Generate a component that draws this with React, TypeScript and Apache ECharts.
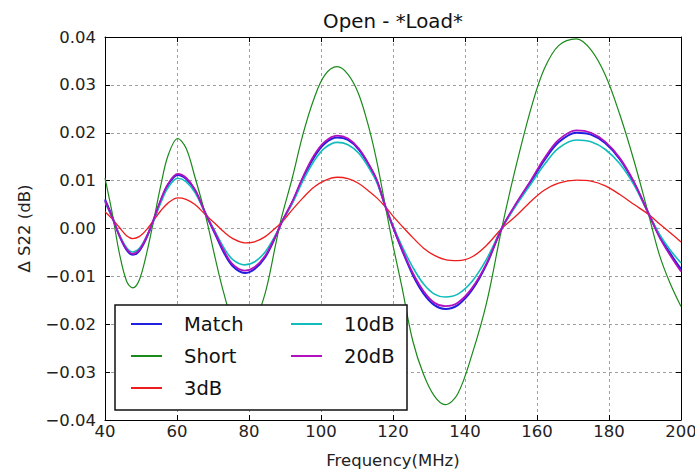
import React, { useEffect, useRef } from "react";
import * as echarts from "echarts";

// Frequency grid (MHz) shared by all traces
const freq = [
  40, 42, 44, 46, 47.7, 49.5, 51.5, 53.5, 55.5, 57.5, 60.2, 62.5, 65, 68, 70.5, 73, 75.5, 78.8,
  81.5, 84.5, 87.5, 89, 92, 95, 98, 101, 104.5, 107.5, 110.5, 113.5, 115.5, 117.8, 120, 122.5,
  125.5, 128.5, 131.5, 134.5, 138, 142, 146, 150.2, 154, 158.5, 162, 166, 171, 175, 179, 183,
  187, 190.9, 194, 197, 200,
];

// Δ S22 (dB) per termination
const matchVals = [
  0.0061, 0.0025, -0.0015, -0.0045, -0.0055, -0.0047, -0.002, 0.0017, 0.0058, 0.0091, 0.0112,
  0.0104, 0.008, 0.003, -0.001, -0.005, -0.0079, -0.0093, -0.0085, -0.006, -0.0015, 0.0012,
  0.0054, 0.0105, 0.0148, 0.0177, 0.019, 0.0185, 0.0165, 0.013, 0.01, 0.0048, 0.0003, -0.0045,
  -0.0097, -0.0136, -0.016, -0.0168, -0.016, -0.0128, -0.0075, 0.0, 0.0048, 0.01, 0.0142, 0.018,
  0.02, 0.0196, 0.0178, 0.0145, 0.0095, 0.0033, -0.0015, -0.0052, -0.0085,
];
const shortVals = [
  0.0105, 0.0032, -0.0052, -0.011, -0.0124, -0.0108, -0.0054, 0.0016, 0.009, 0.0152, 0.0188,
  0.0168, 0.0107, 0.0025, -0.0058, -0.0135, -0.0192, -0.0218, -0.0195, -0.0135, -0.003, 0.0022,
  0.0105, 0.0197, 0.027, 0.032, 0.0338, 0.0322, 0.028, 0.0205, 0.014, 0.005, -0.0035, -0.0123,
  -0.0235, -0.0305, -0.035, -0.0368, -0.0345, -0.0262, -0.0155, 0.0, 0.0125, 0.0255, 0.0333,
  0.0382, 0.0396, 0.0373, 0.032, 0.0238, 0.014, 0.0032, -0.0055, -0.0115, -0.0163,
];
const db3Vals = [
  0.0035, 0.002, 0.0002, -0.0015, -0.0021, -0.0017, -0.0003, 0.0017, 0.0037, 0.0053, 0.0064,
  0.0061, 0.005, 0.0028, 0.0011, -0.0007, -0.0021, -0.003, -0.0028, -0.0017, 0.0002, 0.0012,
  0.0039, 0.0064, 0.0086, 0.01, 0.0107, 0.0104, 0.0094, 0.0077, 0.0064, 0.0046, 0.0026, 0.0005,
  -0.0019, -0.0041, -0.0056, -0.0065, -0.0067, -0.0059, -0.0035, 0.0, 0.0025, 0.0058, 0.008,
  0.0095, 0.0101, 0.0099, 0.0089, 0.0071, 0.005, 0.003, 0.001, -0.0009, -0.0028,
];
const db10Vals = [
  0.0055, 0.0022, -0.0013, -0.004, -0.0049, -0.0042, -0.0017, 0.0017, 0.0054, 0.0085, 0.0105,
  0.0098, 0.0075, 0.003, -0.0005, -0.004, -0.0065, -0.0076, -0.007, -0.0049, -0.0012, 0.0012,
  0.0052, 0.01, 0.014, 0.0168, 0.018, 0.0175, 0.0157, 0.0124, 0.0096, 0.0048, 0.0006, -0.0037,
  -0.0081, -0.0116, -0.0137, -0.0143, -0.0137, -0.011, -0.0064, 0.0, 0.0046, 0.0095, 0.0133,
  0.0168, 0.0185, 0.0181, 0.0165, 0.0135, 0.009, 0.0032, -0.0012, -0.0045, -0.0072,
];
const db20Vals = [
  0.0058, 0.0023, -0.0015, -0.0043, -0.0053, -0.0045, -0.0018, 0.0019, 0.006, 0.0093, 0.0114,
  0.0106, 0.0081, 0.003, -0.0008, -0.0046, -0.0075, -0.0088, -0.0081, -0.0057, -0.0014, 0.0012,
  0.0056, 0.0108, 0.0152, 0.0181, 0.0194, 0.0188, 0.0167, 0.0131, 0.0101, 0.0048, 0.0004,
  -0.0043, -0.0093, -0.0131, -0.0155, -0.0162, -0.0155, -0.0124, -0.0073, 0.0, 0.005, 0.0103,
  0.0146, 0.0185, 0.0205, 0.02, 0.0181, 0.0147, 0.0096, 0.0032, -0.0018, -0.0056, -0.009,
];

const seriesNames = ["Match", "Short", "3dB", "10dB", "20dB"];
const seriesColors = ["#2020e0", "#1a8a1a", "#ee1c1c", "#10bcbc", "#b010c0"];
const seriesWidths = [2, 1.2, 1.3, 1.6, 1.8];
const seriesValues = [matchVals, shortVals, db3Vals, db10Vals, db20Vals];

const FONT = "DejaVu Sans";

const fmtY = (v: number) => (v < 0 ? "\u2212" : "") + Math.abs(v).toFixed(2);

export default function App() {
  const ref = useRef<HTMLDivElement>(null);

  useEffect(() => {
    document.body.style.margin = "0";
    if (!ref.current) return;
    const chart = echarts.init(ref.current, undefined, { renderer: "svg" });

    const xBase = {
      type: "value" as const,
      min: 40,
      max: 200,
      interval: 20,
      axisTick: { inside: true, length: 5, lineStyle: { color: "#000" } },
      axisLine: { show: true, onZero: false, lineStyle: { color: "#000", width: 1 } },
    };
    const yBase = {
      type: "value" as const,
      min: -0.04,
      max: 0.04,
      interval: 0.01,
      axisTick: { inside: true, length: 5, lineStyle: { color: "#000" } },
      axisLine: { show: true, onZero: false, lineStyle: { color: "#000", width: 1 } },
    };
    const gridLine = { show: true, lineStyle: { color: "#a0a0a0", width: 1, type: [3, 3] } };

    const legendText = {
      color: "#111",
      fontFamily: FONT,
      fontSize: 19.5,
      padding: [0, 0, 0, 17],
    };

    chart.setOption({
      animation: false,
      backgroundColor: "#fff",
      grid: {
        left: 105,
        top: 37,
        right: 14,
        bottom: 50,
        show: false,
        containLabel: false,
        outerBoundsMode: "none",
      },
      xAxis: [
        {
          ...xBase,
          position: "bottom",
          splitLine: gridLine,
          axisLabel: { color: "#222", fontFamily: FONT, fontSize: 16.5, margin: 3 },
          name: "Frequency(MHz)",
          nameLocation: "middle",
          nameGap: 32,
          nameTextStyle: { color: "#222", fontFamily: FONT, fontSize: 16.5 },
        },
        {
          ...xBase,
          position: "top",
          splitLine: { show: false },
          axisLabel: { show: false },
        },
      ],
      yAxis: [
        {
          ...yBase,
          position: "left",
          splitLine: gridLine,
          axisLabel: { color: "#222", fontFamily: FONT, fontSize: 16.5, margin: 9, formatter: fmtY },
          name: "\u0394 S22 (dB)",
          nameLocation: "middle",
          nameRotate: 90,
          nameGap: 72,
          nameTextStyle: { color: "#222", fontFamily: FONT, fontSize: 16.5 },
        },
        {
          ...yBase,
          position: "right",
          splitLine: { show: false },
          axisLabel: { show: false },
        },
      ],
      legend: [
        {
          data: seriesNames.slice(0, 3),
          orient: "vertical",
          left: 126,
          top: 309,
          icon: "rect",
          itemWidth: 31,
          itemHeight: 2,
          itemGap: 12,
          z: 20,
          textStyle: legendText,
        },
        {
          data: seriesNames.slice(3),
          orient: "vertical",
          left: 286,
          top: 309,
          icon: "rect",
          itemWidth: 31,
          itemHeight: 2,
          itemGap: 12,
          z: 20,
          textStyle: legendText,
        },
      ],
      graphic: [
        {
          type: "rect",
          z: 15,
          shape: { x: 115, y: 305, width: 292, height: 105 },
          style: { fill: "#fff", stroke: "#111", lineWidth: 1.5 },
        },
        {
          type: "text",
          z: 15,
          style: {
            text: "Open - *Load*",
            x: 393,
            y: 21,
            textAlign: "center",
            textVerticalAlign: "middle",
            fill: "#111",
            font: `19.8px "${FONT}"`,
          },
        },
      ],
      series: seriesNames.map((name, i) => ({
        name,
        type: "line",
        xAxisIndex: 0,
        yAxisIndex: 0,
        showSymbol: false,
        symbol: "none",
        smooth: 0.35,
        clip: true,
        color: seriesColors[i],
        lineStyle: { color: seriesColors[i], width: seriesWidths[i] },
        data: freq.map((f, k) => [f, seriesValues[i][k]]),
      })),
    });

    return () => chart.dispose();
  }, []);

  return <div ref={ref} style={{ width: 695, height: 470 }} />;
}
